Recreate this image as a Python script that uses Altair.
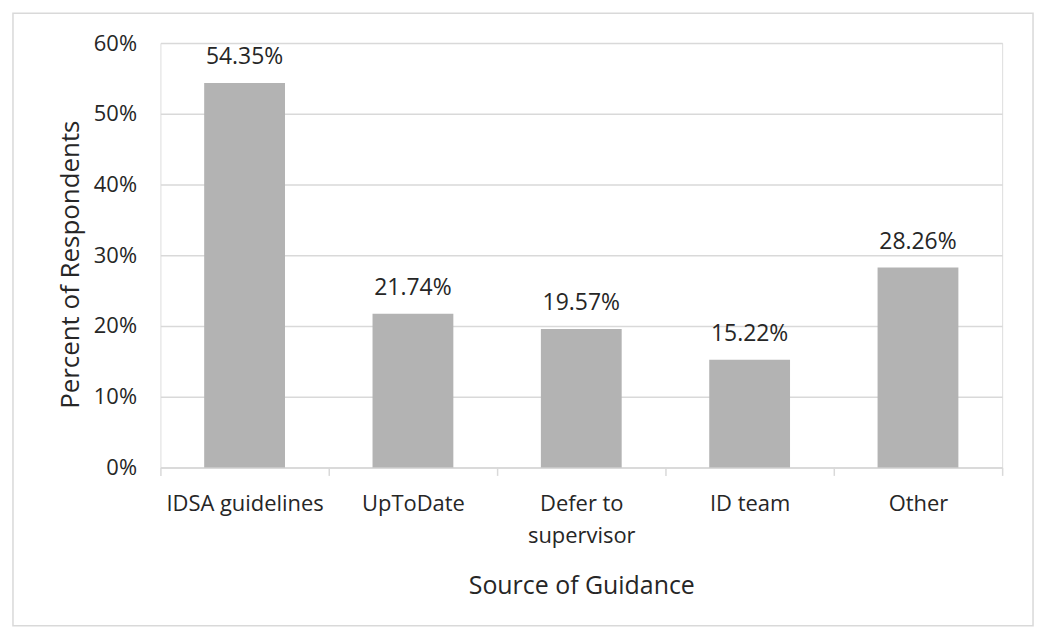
import altair as alt
import pandas as pd

categories = ["IDSA guidelines", "UpToDate", "Defer to supervisor", "ID team", "Other"]
values = [54.35, 21.74, 19.57, 15.22, 28.26]
labels = ["54.35%", "21.74%", "19.57%", "15.22%", "28.26%"]

df = pd.DataFrame({"source": categories, "pct": values, "label": labels})

FONT = "Open Sans"
TEXT = "#262626"

x = alt.X(
    "source:N",
    sort=categories,
    title="Source of Guidance",
    scale=alt.Scale(paddingInner=0, paddingOuter=0),
    axis=alt.Axis(
        labelAngle=0,
        labelFontSize=22,
        labelFont=FONT,
        labelColor=TEXT,
        labelPadding=18,
        labelBaseline="top",
        labelLineHeight=32,
        labelExpr="datum.label == 'Defer to supervisor' ? ['Defer to', 'supervisor'] : datum.label",
        tickBand="extent",
        tickSize=8,
        tickColor="#d9d9d9",
        tickWidth=1.5,
        domainColor="#d9d9d9",
        domainWidth=1.5,
        titleFontSize=25,
        titleFont=FONT,
        titleColor=TEXT,
        titleFontWeight="normal",
        titlePadding=28,
        grid=False,
    ),
)

y = alt.Y(
    "pct:Q",
    title="Percent of Respondents",
    scale=alt.Scale(domain=[0, 60]),
    axis=alt.Axis(
        values=[0, 10, 20, 30, 40, 50, 60],
        labelExpr="datum.value + '%'",
        labelFontSize=22,
        labelFont=FONT,
        labelColor=TEXT,
        labelPadding=24,
        ticks=False,
        domain=False,
        gridColor="#d9d9d9",
        gridWidth=1.5,
        titleFontSize=26,
        titleFont=FONT,
        titleColor=TEXT,
        titleFontWeight="normal",
        titlePadding=10,
        titleY=222,
    ),
)

bars = alt.Chart(df).mark_bar(color="#b3b3b3", width=alt.RelativeBandSize(0.48)).encode(x=x, y=y)

text = alt.Chart(df).mark_text(
    baseline="alphabetic", dy=-19, fontSize=23, font=FONT, color=TEXT
).encode(x=alt.X("source:N", sort=categories), y="pct:Q", text="label:N")

border = alt.Chart(alt.Data(values=[{}])).mark_rect(
    fill=None, stroke="#d9d9d9", strokeWidth=1.5
).encode(
    x=alt.value(-148), x2=alt.value(876), y=alt.value(-30), y2=alt.value(585)
)

chart = (
    alt.layer(border, bars, text)
    .properties(
        width=845,
        height=426,
        autosize=alt.AutoSizeParams(type="none"),
        padding={"left": 153, "top": 34, "right": 40, "bottom": 160},
    )
    .configure_view(stroke=None)
    .configure(background="white")
)

chart.save("out.html", embed_options={"renderer": "svg", "actions": False})
